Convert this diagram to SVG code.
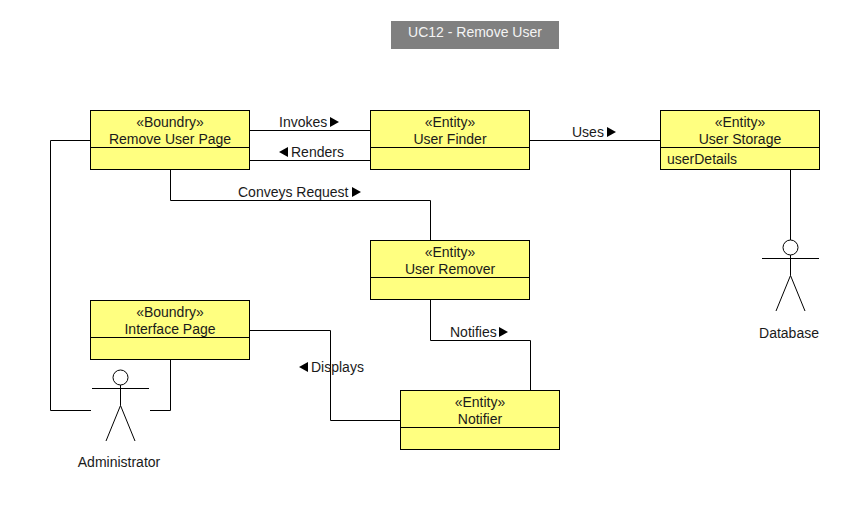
<svg xmlns="http://www.w3.org/2000/svg" width="860" height="510" viewBox="0 0 860 510">
<style>
text{font-family:"Liberation Sans",Arial,sans-serif;font-size:14px;fill:#1a1a1a}
.c{text-anchor:middle}
.box{fill:#ffff80;stroke:#000;stroke-width:1}
.ln{fill:none;stroke:#000;stroke-width:1}
.ah{fill:#000;stroke:none}
.act{fill:#fff;stroke:#000;stroke-width:1}
</style>
<defs>
<path id="r" class="ah" d="M0-5L9 0L0 5Z"/>
<path id="l" class="ah" d="M9-5L0 0L9 5Z"/>
</defs>
<rect width="860" height="510" fill="#fff"/>
<g id="title"><rect x="391" y="21" width="168" height="28" fill="#808080"/><text class="c" x="475" y="37" style="fill:#f4f4f4">UC12 - Remove User</text></g>
<g id="connectors">
<path class="ln" d="M250 130.500H370M250 160.500H370M530 140.500H660M170.500 170V200.500H430.500V240M430.500 300V340.500H530.500V390M250 330.500H330.500V420.500H400M790.500 170V240M90 140.500H50.500V410.500H91M150 410.500H170.500V360"/>
<use href="#r" x="330" y="122"/><text x="279" y="127">Invokes</text>
<use href="#l" x="279" y="152"/><text x="291" y="157">Renders</text>
<use href="#r" x="607" y="132"/><text x="572" y="137">Uses</text>
<use href="#r" x="352" y="192"/><text x="238" y="197">Conveys Request</text>
<use href="#r" x="499" y="332"/><text x="450" y="337">Notifies</text>
<use href="#l" x="299" y="367"/><text x="311" y="372">Displays</text>
</g>
<g id="remove-user-page"><rect class="box" x="90.500" y="110.500" width="159" height="59"/><path class="ln" d="M90 147.500H250"/><text class="c" x="170" y="127">«Boundry»</text><text class="c" x="170" y="144">Remove User Page</text></g>
<g id="user-finder"><rect class="box" x="370.500" y="110.500" width="159" height="59"/><path class="ln" d="M370 147.500H530"/><text class="c" x="450" y="127">«Entity»</text><text class="c" x="450" y="144">User Finder</text></g>
<g id="user-storage"><rect class="box" x="660.500" y="110.500" width="159" height="59"/><path class="ln" d="M660 147.500H820"/><text class="c" x="740" y="127">«Entity»</text><text class="c" x="740" y="144">User Storage</text><text x="667" y="164">userDetails</text></g>
<g id="user-remover"><rect class="box" x="370.500" y="240.500" width="159" height="59"/><path class="ln" d="M370 277.500H530"/><text class="c" x="450" y="257">«Entity»</text><text class="c" x="450" y="274">User Remover</text></g>
<g id="interface-page"><rect class="box" x="90.500" y="300.500" width="159" height="59"/><path class="ln" d="M90 337.500H250"/><text class="c" x="170" y="317">«Boundry»</text><text class="c" x="170" y="334">Interface Page</text></g>
<g id="notifier"><rect class="box" x="400.500" y="390.500" width="159" height="59"/><path class="ln" d="M400 427.500H560"/><text class="c" x="480" y="407">«Entity»</text><text class="c" x="480" y="424">Notifier</text></g>
<g id="administrator"><circle class="act" cx="120.500" cy="377.500" r="7.500"/><path class="ln" d="M92 388.500H149M120.500 385V405.500M120.500 405.500L106 441M120.500 405.500L135 441"/><text class="c" x="119" y="467">Administrator</text></g>
<g id="database"><circle class="act" cx="790.500" cy="247.500" r="7.500"/><path class="ln" d="M762 258.500H819M790.500 255V275.500M790.500 275.500L776 311M790.500 275.500L805 311"/><text class="c" x="789" y="338">Database</text></g>
</svg>
